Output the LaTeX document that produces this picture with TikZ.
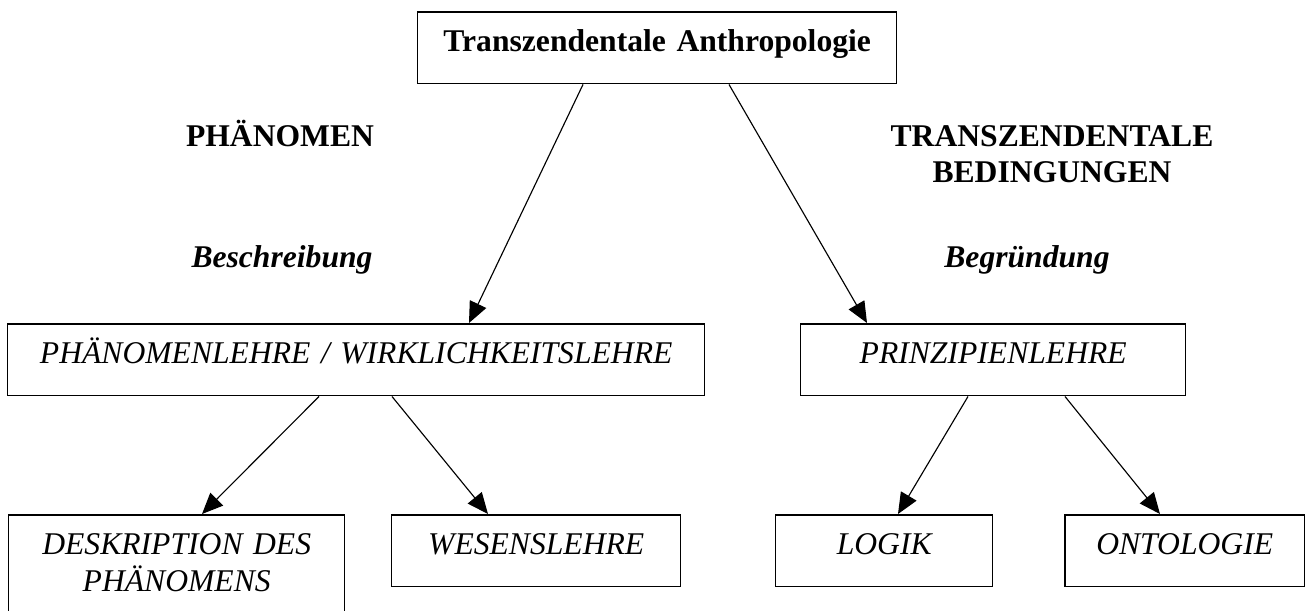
\documentclass[tikz,border=0pt]{standalone}
\usepackage{fontspec}
\setmainfont{Liberation Serif}
\usetikzlibrary{arrows.meta}
\usetikzlibrary{calc}

\newcommand{\schrift}{\fontsize{18pt}{21pt}\selectfont}

\begin{document}
\begin{tikzpicture}[x=0.02cm, y=-0.02cm,
    kasten/.style={draw, line width=0.85pt, inner sep=0pt, anchor=north west, align=center,
                   text height=0.8cm, text depth=0.64cm, font=\schrift\itshape},
    titel/.style={inner sep=0pt, anchor=base, align=center, text width=8cm, font=\schrift\bfseries},
    pfeil/.style={-{Triangle[length=0.42cm, width=0.36cm]}, line width=0.65pt}]
            \useasboundingbox (0,0) rectangle (1306,610);
            % Kaesten
            \node[kasten, text width=9.58cm, font=\schrift\bfseries] (anthro) at (417,11) {Transzendentale Anthropologie};
            \node[kasten, text width=13.94cm] (phaen) at (7,323) {PHÄNOMENLEHRE / WIRKLICHKEITSLEHRE};
            \node[kasten, text width=7.7cm] (prinzip) at (800,323) {PRINZIPIENLEHRE};
            \node[kasten, text width=6.72cm, text depth=1.44cm] (deskr) at (8,514) {DESKRIPTION DES\\PHÄNOMENS};
            \node[kasten, text width=5.78cm] (wesen) at (391,514) {WESENSLEHRE};
            \node[kasten, text width=4.34cm] (logik) at (775,514) {LOGIK};
            \node[kasten, text width=4.8cm] (onto) at (1064,514) {ONTOLOGIE};

            % Beschriftungen
            \node[titel] (phaenomen) at (280,146) {PHÄNOMEN};
            \node[titel] (bedingungen) at (1052,146) {TRANSZENDENTALE\\BEDINGUNGEN};
            \node[titel, font=\schrift\bfseries\itshape] (beschr) at (282,267) {Beschreibung};
            \node[titel, font=\schrift\bfseries\itshape] (begr) at (1027,267) {Begründung};

            % Pfeile
            \draw[pfeil] ($(anthro.south west)+(166,0)$) -- ($(phaen.north west)+(462,0)$);
            \draw[pfeil] ($(anthro.south west)+(312,0)$) -- ($(prinzip.north west)+(67,0)$);
            \draw[pfeil] ($(phaen.south west)+(312,0)$) -- ($(deskr.north west)+(194,0)$);
            \draw[pfeil] ($(phaen.south west)+(385,0)$) -- ($(wesen.north west)+(97,0)$);
            \draw[pfeil] ($(prinzip.south west)+(168,0)$) -- ($(logik.north west)+(123,0)$);
            \draw[pfeil] ($(prinzip.south west)+(265,0)$) -- ($(onto.north west)+(96,0)$);
          \end{tikzpicture}
\end{document}
